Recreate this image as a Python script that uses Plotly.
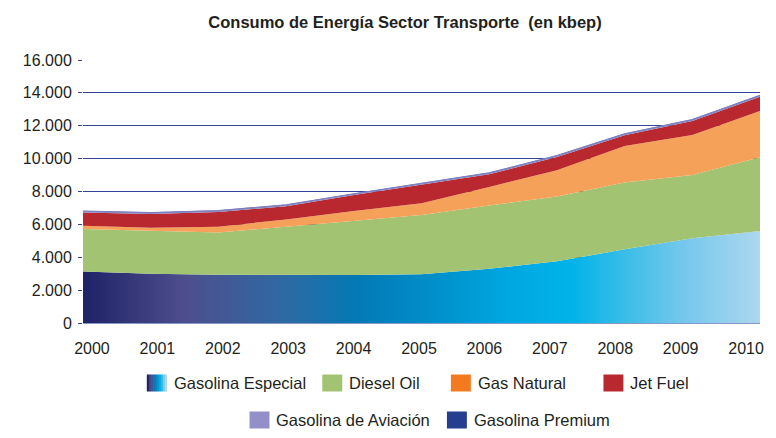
import plotly.graph_objects as go
from plotly.colors import sample_colorscale

# Consumo de energía del sector transporte, 2000-2010 (kbep)
years = list(range(2000, 2011))
gasolina_especial = [3130, 3000, 2940, 2920, 2920, 2960, 3300, 3750, 4480, 5150, 5600]
diesel_oil = [2590, 2600, 2560, 2940, 3280, 3610, 3850, 3950, 4060, 3850, 4480]
gas_natural = [200, 200, 360, 440, 620, 710, 1130, 1600, 2230, 2440, 2820]
jet_fuel = [810, 830, 890, 800, 960, 1120, 770, 800, 650, 850, 870]
gasolina_aviacion = [70, 70, 70, 70, 70, 70, 70, 70, 70, 70, 70]
gasolina_premium = [15, 15, 15, 15, 15, 15, 15, 15, 15, 15, 15]

y_ticks = [0, 2000, 4000, 6000, 8000, 10000, 12000, 14000, 16000]

FONT = "Liberation Sans, Arial, sans-serif"
TEXT = "#231f20"

# horizontal colour ramp used by the Gasolina Especial band
especial_scale = [
    [0.00, "#1e2266"],
    [0.15, "#4e4e8e"],
    [0.30, "#2d6aa3"],
    [0.40, "#0479b4"],
    [0.52, "#0090cb"],
    [0.62, "#00a6e0"],
    [0.72, "#00b3e8"],
    [0.80, "#3cbde8"],
    [0.88, "#72c7ec"],
    [1.00, "#aed7ef"],
]

series = [
    ("Diesel Oil", diesel_oil, "#a1c372", "#a1c372"),
    ("Gas Natural", gas_natural, "#f6a15a", "#f47a20"),
    ("Jet Fuel", jet_fuel, "#b9282f", "#b9282f"),
    ("Gasolina de Aviación", gasolina_aviacion, "#8d89c4", "#938fc8"),
    ("Gasolina Premium", gasolina_premium, "#7d7fbf", "#243f8f"),
]

fig = go.Figure()
fig.add_trace(go.Scatter(
    x=years, y=gasolina_especial, name="Gasolina Especial",
    stackgroup="transporte", mode="lines", line=dict(width=0),
    fillgradient=dict(type="horizontal", colorscale=especial_scale,
                      start=years[0], stop=years[-1]),
    showlegend=False, hoverinfo="x+y+name",
))
for name, values, fill, _ in series:
    top = name in ("Gasolina de Aviación", "Gasolina Premium")
    fig.add_trace(go.Scatter(
        x=years, y=values, name=name, stackgroup="transporte",
        mode="lines", line=dict(width=1.2 if top else 0, color=fill),
        fillcolor=fill, showlegend=False,
    ))

# label-only year axis, laid out slightly inset from the data axis
fig.add_trace(go.Scatter(x=years, y=[None] * len(years), xaxis="x2",
                         showlegend=False, hoverinfo="skip"))

# plot-area geometry in pixels, used to place the legend items
L, R, T, B = 83, 762, 60, 323


def px(x):
    return (x - L) / (R - L)


def py(y):
    return (B - y) / (B - T)


shapes = []
annotations = []


def legend_item(x0, yc, label, color=None, ramp=None):
    w, h = 20, 17
    if ramp:
        steps = 10
        cols = sample_colorscale(ramp, [i / (steps - 1) for i in range(steps)])
        for i, c in enumerate(cols):
            shapes.append(dict(type="rect", xref="paper", yref="paper",
                               x0=px(x0 + i * w / steps), x1=px(x0 + (i + 1) * w / steps + 0.3),
                               y0=py(yc + h / 2), y1=py(yc - h / 2),
                               fillcolor=c, line=dict(width=0), layer="above"))
    else:
        shapes.append(dict(type="rect", xref="paper", yref="paper",
                           x0=px(x0), x1=px(x0 + w), y0=py(yc + h / 2), y1=py(yc - h / 2),
                           fillcolor=color, line=dict(width=0), layer="above"))
    annotations.append(dict(xref="paper", yref="paper", x=px(x0 + w + 5), y=py(yc),
                            xanchor="left", yanchor="middle", showarrow=False,
                            text=label, font=dict(family=FONT, size=16.5, color=TEXT)))


legend_item(147, 383, "Gasolina Especial", ramp=especial_scale)
legend_item(323, 383, series[0][0], series[0][3])
legend_item(452, 383, series[1][0], series[1][3])
legend_item(605, 383, series[2][0], series[2][3])
legend_item(250, 420, series[3][0], series[3][3])
legend_item(448, 420, series[4][0], series[4][3])

# year labels run from x=92 to x=748 px
px_per_year = (748 - 92) / (years[-1] - years[0])
label_range = [years[0] - (92 - L) / px_per_year, years[-1] + (R - 748) / px_per_year]

fig.update_layout(
    width=776, height=438,
    margin=dict(l=L, r=776 - R, t=T, b=438 - B),
    paper_bgcolor="white", plot_bgcolor="white",
    separators=",.",
    title=dict(text="Consumo de Energía Sector Transporte\u00a0 (en kbep)",
               x=405 / 776, xanchor="center", y=1 - 22 / 438, yanchor="middle",
               font=dict(family=FONT, size=16.5, color=TEXT, weight="bold")),
    font=dict(family=FONT, size=16, color=TEXT),
    xaxis=dict(range=[years[0], years[-1]], showticklabels=False, showgrid=False,
               zeroline=False, showline=True, linecolor="#8797c8", linewidth=1,
               ticks=""),
    xaxis2=dict(overlaying="x", anchor="y", side="bottom", range=label_range,
                tickvals=years, showgrid=False, zeroline=False, showline=False,
                ticks="", ticklabelstandoff=14, tickfont=dict(size=16, color=TEXT)),
    yaxis=dict(range=[0, 16000], tickvals=y_ticks, tickformat=",d",
               showgrid=True, gridcolor="#32439a", gridwidth=1, zeroline=False,
               ticks="outside", ticklen=4, tickcolor="#32439a",
               ticklabelstandoff=3, tickfont=dict(size=16, color=TEXT)),
    shapes=shapes, annotations=annotations, showlegend=False,
)

fig.write_html("out.html")
